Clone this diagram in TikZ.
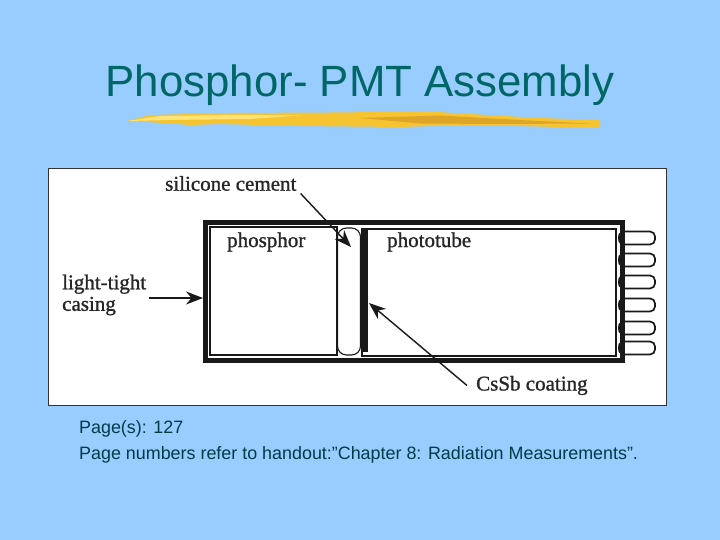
\documentclass[tikz,border=0pt]{standalone}
\usepackage{fontspec}
\setmainfont{Liberation Sans}
\newfontfamily\figfont[FakeBold=1.1]{Liberation Serif}
\usetikzlibrary{arrows.meta, positioning}
\definecolor{slideblue}{RGB}{153,204,255}
\definecolor{slideteal}{RGB}{0,102,102}
\definecolor{captionteal}{RGB}{0,60,70}
\definecolor{brushgold}{RGB}{245,196,48}
\definecolor{brushlight}{RGB}{255,226,120}
\definecolor{brushdark}{RGB}{222,165,40}
\tikzset{
  figlabel/.style={font=\figfont\fontsize{21}{21.5}\selectfont,align=left,inner sep=0pt,text=black!85},
  callout/.style={-{Stealth[length=17pt,width=13pt]},line width=1.4pt,black!90},
  wallbox/.style={draw=black!90,fill=white,outer sep=0pt,inner sep=0pt},
  pinbox/.style={wallbox,line width=1.7pt,rounded corners=5pt,minimum width=36pt,minimum height=13pt}
}

\begin{document}
\begin{tikzpicture}[x=1pt,y=-1pt]
\useasboundingbox[fill=slideblue] (0,0) rectangle (720,540);

% Title
\node[text=slideteal,font=\fontsize{43.8}{50}\selectfont,inner sep=0pt] (title) at (360,85) {Phosphor- PMT Assembly};

% Brush stroke
\fill[brushgold] (127,121) -- (150,115) -- (230,113) -- (330,112.5) -- (430,111.5) -- (470,114) -- (540,118) -- (600,120) -- (600,127.5) -- (560,127) -- (470,125) -- (400,127) -- (300,126) -- (220,124) -- (190,125) -- (165,123) -- cycle;
\fill[brushlight] (127,121) -- (160,116) -- (240,115) -- (300,115.5) -- (250,119) -- (170,120) -- cycle;
\fill[brushdark] (360,118) -- (440,115.5) -- (520,120) -- (590,123.5) -- (500,124) -- (420,123.5) -- cycle;

% Figure panel
\node[draw=black!80,fill=white,line width=0.8pt,minimum width=618pt,minimum height=237pt,outer sep=0pt] (panel) at (357,286.5) {};

% Pins
\foreach \n/\y in {1/238,2/260,3/282,4/305,5/328,6/348} {
  \node[pinbox] (pin\n) at (637,\y) {};
}

% Casing
\node[wallbox,line width=5pt,minimum width=417pt,minimum height=138pt] (casing) at (414,291.5) {};
\foreach \n/\y in {1/238,2/260,3/282,4/305,5/328,6/348} {
  \fill[black!90] (620,\y) ellipse (2pt and 5.5pt);
}

% Phototube, phosphor, cement, coating
\node[wallbox,line width=1.3pt,minimum width=254pt,minimum height=127pt] (tube) at (489,292.5) {};
\node[wallbox,line width=1.3pt,minimum width=127pt,minimum height=128pt] (phosphorbox) at (273.5,291) {};
\node[wallbox,line width=1.1pt,rounded corners=9pt,minimum width=23pt,minimum height=127pt] (cement) at (349,291.5) {};
\node[fill=black!90,minimum width=6.5pt,minimum height=122pt,inner sep=0pt,outer sep=0pt] (coating) at (365,291) {};

% Labels
\node[figlabel,anchor=west] (phosphor) at (227,242) {phosphor};
\node[figlabel,anchor=west] (phototube) at (387,242) {phototube};
\node[figlabel,anchor=west] (cementlabel) at (165,183.5) {silicone cement};
\node[figlabel,anchor=west] (casinglabel) at (62,295) {light-tight\\casing};
\node[figlabel,anchor=west] (coatinglabel) at (476,385.5) {CsSb coating};

% Arrows
\coordinate (cementtip) at (351,247);
\coordinate (casingtip) at (203,298);
\coordinate (coatingtip) at (369,303);
\draw[callout] (cementlabel.east) ++(4,10) -- (cementtip);
\draw[callout] (casinglabel.east) ++(3,3) -- (casingtip);
\draw[callout] (coatinglabel.west) ++(-9,0) -- (coatingtip);

% Caption
\node[text=captionteal,font=\fontsize{17.9}{26}\selectfont,align=left,anchor=north west,inner sep=0pt] (caption) at (79,420.5) {Page(s): 127\\Page numbers refer to handout:”Chapter 8: Radiation Measurements”.};
\end{tikzpicture}
\end{document}
